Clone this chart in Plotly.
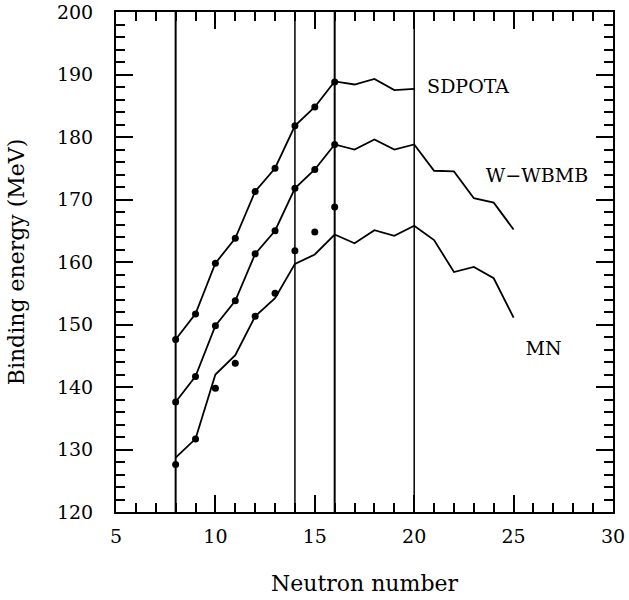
import plotly.graph_objects as go

# Neutron numbers
n_exp = [8, 9, 10, 11, 12, 13, 14, 15, 16]
n_sd = [8, 9, 10, 11, 12, 13, 14, 15, 16, 17, 18, 19, 20]
n_long = [8, 9, 10, 11, 12, 13, 14, 15, 16, 17, 18, 19, 20, 21, 22, 23, 24, 25]

# Experimental points (plotted at three offsets)
exp_mn = [127.6, 131.7, 139.8, 143.8, 151.3, 155.0, 161.8, 164.8, 168.8]
exp_ww = [137.6, 141.7, 149.8, 153.8, 161.3, 165.0, 171.8, 174.8, 178.8]
exp_sd = [147.6, 151.7, 159.8, 163.8, 171.3, 175.0, 181.8, 184.8, 188.8]

# Model curves
sdpota = [147.6, 151.7, 159.8, 163.8, 171.3, 175.0, 181.8, 184.8, 188.9,
          188.4, 189.3, 187.5, 187.7]
wwbmb = [137.6, 141.7, 149.8, 153.8, 161.3, 165.0, 171.8, 174.8, 178.8,
         178.0, 179.6, 178.0, 178.8, 174.6, 174.5, 170.2, 169.5, 165.2]
mn = [128.7, 131.7, 142.0, 145.1, 151.3, 154.2, 159.7, 161.2, 164.4,
      163.0, 165.1, 164.2, 165.8, 163.5, 158.4, 159.2, 157.4, 151.1]

# Vertical reference lines (magic numbers)
vlines = [8, 14, 16, 20]
vwidths = [2, 1.5, 2, 1.5]

labels = ["SDPOTA", "W\u2212WBMB", "MN"]
label_x = [20.65, 23.6, 25.6]
label_y = [187.8, 173.5, 145.9]

FONT = "DejaVu Serif"

fig = go.Figure()
for xv, w in zip(vlines, vwidths):
    fig.add_trace(go.Scatter(x=[xv, xv], y=[120, 200], mode="lines",
                             line=dict(color="black", width=w),
                             showlegend=False, hoverinfo="skip"))

for xs, ys in [(n_sd, sdpota), (n_long, wwbmb), (n_long, mn)]:
    fig.add_trace(go.Scatter(x=xs, y=ys, mode="lines",
                             line=dict(color="black", width=1.8),
                             showlegend=False))

for ys in [exp_sd, exp_ww, exp_mn]:
    fig.add_trace(go.Scatter(x=n_exp, y=ys, mode="markers",
                             marker=dict(color="black", size=7),
                             showlegend=False))

fig.add_trace(go.Scatter(x=label_x, y=label_y, mode="text", text=labels,
                         textposition="middle right",
                         textfont=dict(family=FONT, size=19, color="black"),
                         showlegend=False))

axis_common = dict(
    showgrid=False, zeroline=False, showline=True, linecolor="black",
    linewidth=2, mirror="allticks", ticks="inside", tickcolor="black",
    tickwidth=1.5, ticklen=17, automargin=False,
    tickfont=dict(family=FONT, size=19, color="black"),
)

fig.update_layout(
    width=629, height=600,
    margin=dict(l=116, r=16, t=12, b=88),
    paper_bgcolor="white", plot_bgcolor="white",
    font=dict(family=FONT, color="black"),
    xaxis=dict(range=[5, 30], dtick=5, tick0=5, ticklabelstandoff=6,
               minor=dict(dtick=1, ticks="inside", ticklen=9,
                          tickcolor="black", tickwidth=1.5),
               title=dict(text="Neutron number",
                          font=dict(family=FONT, size=22), standoff=30),
               **axis_common),
    yaxis=dict(range=[120, 200], dtick=10, tick0=120, ticklabelstandoff=17,
               minor=dict(dtick=2, ticks="inside", ticklen=9,
                          tickcolor="black", tickwidth=1.5),
               title=dict(text="Binding energy (MeV)",
                          font=dict(family=FONT, size=22), standoff=26),
               **axis_common),
)

fig.write_html("out.html",
               config={"displayModeBar": False},
               post_script="document.body.style.margin='0';"
                           "document.body.style.padding='0';")
